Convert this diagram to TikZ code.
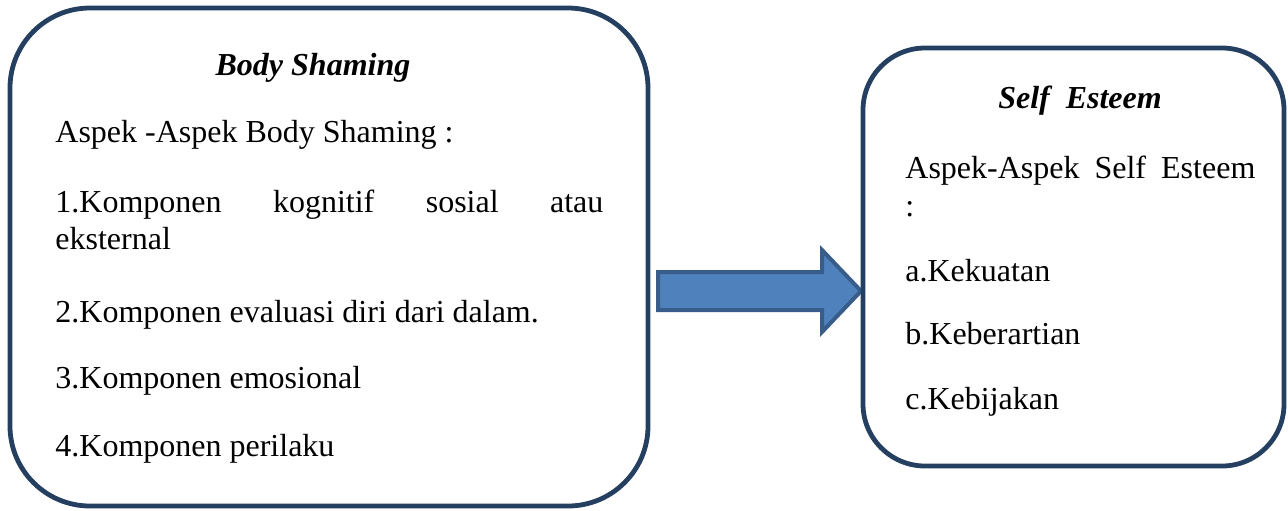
\documentclass[tikz,border=0pt]{standalone}
\usepackage{fontspec}
\setmainfont{Liberation Serif}
\usetikzlibrary{positioning}
\definecolor{boxline}{RGB}{36,63,96}
\definecolor{arrowfill}{RGB}{79,129,189}
\definecolor{arrowline}{RGB}{56,93,138}
\tikzset{
  panel/.style={draw=boxline, line width=2.4pt},
  item/.style={anchor=base west, inner sep=0pt, font=\fontsize{16}{19}\selectfont},
  heading/.style={anchor=base, inner sep=0pt, font=\fontsize{16}{19}\selectfont\bfseries\itshape},
}
\begin{document}
\begin{tikzpicture}[x=0.5pt, y=-0.5pt]
    \useasboundingbox (0,0) rectangle (1288,510);

    % Kotak kiri: Body Shaming
    \node[panel, rounded corners=40pt, minimum width=319pt, minimum height=249pt] (bodybox) at (329,257) {};
    \node[heading] (bodytitle) at (313,75) {Body Shaming};
    \node[item] (bodyaspek) at (55,142) {Aspek -Aspek Body Shaming :};
    \node[item] (bodyone) at (55,212) {\makebox[274pt][s]{1.Komponen kognitif sosial atau}};
    \node[item] (bodyonecont) at (55,249) {eksternal};
    \node[item] (bodytwo) at (55,322) {2.Komponen evaluasi diri dari dalam.};
    \node[item] (bodythree) at (55,388) {3.Komponen emosional};
    \node[item] (bodyfour) at (55,456) {4.Komponen perilaku};

    % Panah blok
    \draw[arrowline, fill=arrowfill, line width=2pt]
        (658,272) -- (822,272) -- (822,250) -- (861,291) -- (822,332) -- (822,310) -- (658,310) -- cycle;

    % Kotak kanan: Self Esteem
    \node[panel, rounded corners=31pt, minimum width=210.5pt, minimum height=209pt] (selfbox) at (1073.5,257) {};
    \node[heading] (selftitle) at (1080,108) {Self\ \ Esteem};
    \node[item] (selfaspek) at (905,178) {\makebox[175pt][s]{Aspek-Aspek Self Esteem}};
    \node[item] (selfcolon) at (905,216) {:};
    \node[item] (selfa) at (905,281) {a.Kekuatan};
    \node[item] (selfb) at (905,344) {b.Keberartian};
    \node[item] (selfc) at (905,409) {c.Kebijakan};

\end{tikzpicture}
\end{document}
